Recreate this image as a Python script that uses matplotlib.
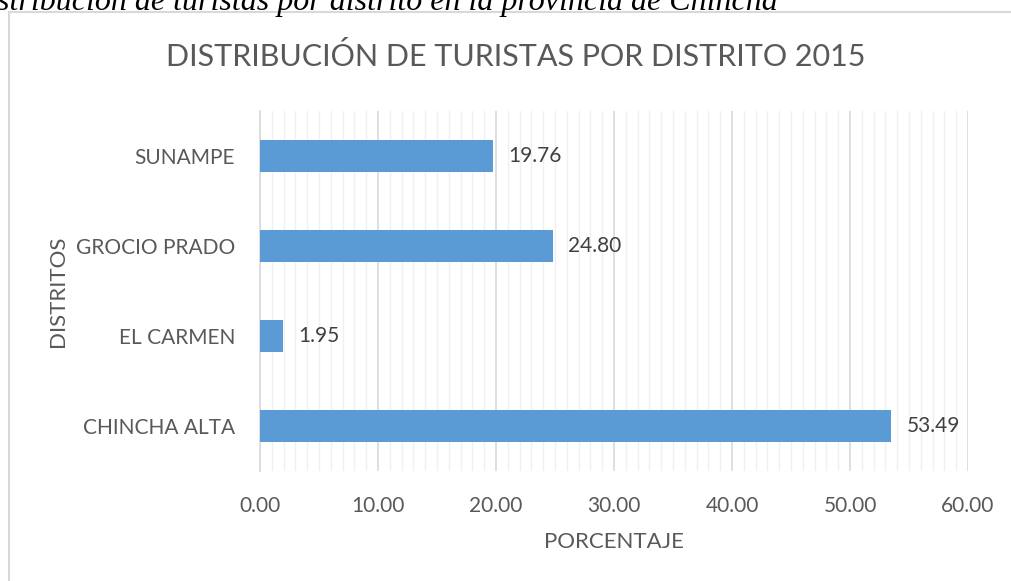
import matplotlib.pyplot as plt
from matplotlib.patches import Rectangle
from matplotlib.ticker import MultipleLocator, FormatStrFormatter

distritos = ['CHINCHA ALTA', 'EL CARMEN', 'GROCIO PRADO', 'SUNAMPE']
porcentajes = [53.49, 1.95, 24.80, 19.76]

fuente = 'Lato'
gris = '#595959'

fig = plt.figure(figsize=(10.11, 5.81), dpi=100)

# borde del cuadro y leyenda cortada arriba
fig.patches.append(Rectangle((9 / 1011, -0.1), 1.2, 1.1 - 12.5 / 581, transform=fig.transFigure,
                             fill=False, edgecolor='#d9d9d9', linewidth=1.5))
fig.text(-0.034, 1 - 10 / 581, 'Distribución de turistas por distrito en la provincia de Chincha',
         fontsize=23, family='Liberation Serif', style='italic', va='baseline', ha='left')

ax = fig.add_axes([260 / 1011, 1 - 471 / 581, 708 / 1011, 360 / 581])
ax.barh(distritos, porcentajes, height=0.35, color='#5B9BD5', zorder=3)

for i, v in enumerate(porcentajes):
    ax.text(v + 1.3, i, f'{v:.2f}', va='center', ha='left', fontsize=15,
            color='#404040', family=fuente)

ax.set_xlim(0, 60)
ax.set_ylim(-0.5, 3.5)
ax.xaxis.set_major_locator(MultipleLocator(10))
ax.xaxis.set_minor_locator(MultipleLocator(1))
ax.xaxis.set_major_formatter(FormatStrFormatter('%.2f'))
ax.grid(axis='x', which='major', color='#d9d9d9', linewidth=1.2, zorder=0)
ax.grid(axis='x', which='minor', color='#f0f0f0', linewidth=1.0, zorder=0)
for s in ['top', 'right', 'bottom']:
    ax.spines[s].set_visible(False)
ax.spines['left'].set_color('#d9d9d9')
ax.spines['left'].set_linewidth(1.2)
ax.tick_params(axis='both', which='both', length=0, colors=gris, labelsize=15)
ax.tick_params(axis='x', pad=18)
ax.tick_params(axis='y', pad=18)
for lbl in ax.get_xticklabels() + ax.get_yticklabels():
    lbl.set_family(fuente)

ax.set_xlabel('PORCENTAJE', fontsize=16, color=gris, family=fuente, va='center')
ax.set_ylabel('DISTRITOS', fontsize=16, color=gris, family=fuente, va='center')
ax.xaxis.set_label_coords(0.5, (471 - 542) / 360)
ax.yaxis.set_label_coords((58 - 260) / 708, 0.5)

fig.text(516 / 1011, 1 - 56 / 581, 'DISTRIBUCIÓN DE TURISTAS POR DISTRITO 2015',
         ha='center', va='center', fontsize=22, color=gris, family=fuente)

fig.savefig('out.png', dpi=100)
